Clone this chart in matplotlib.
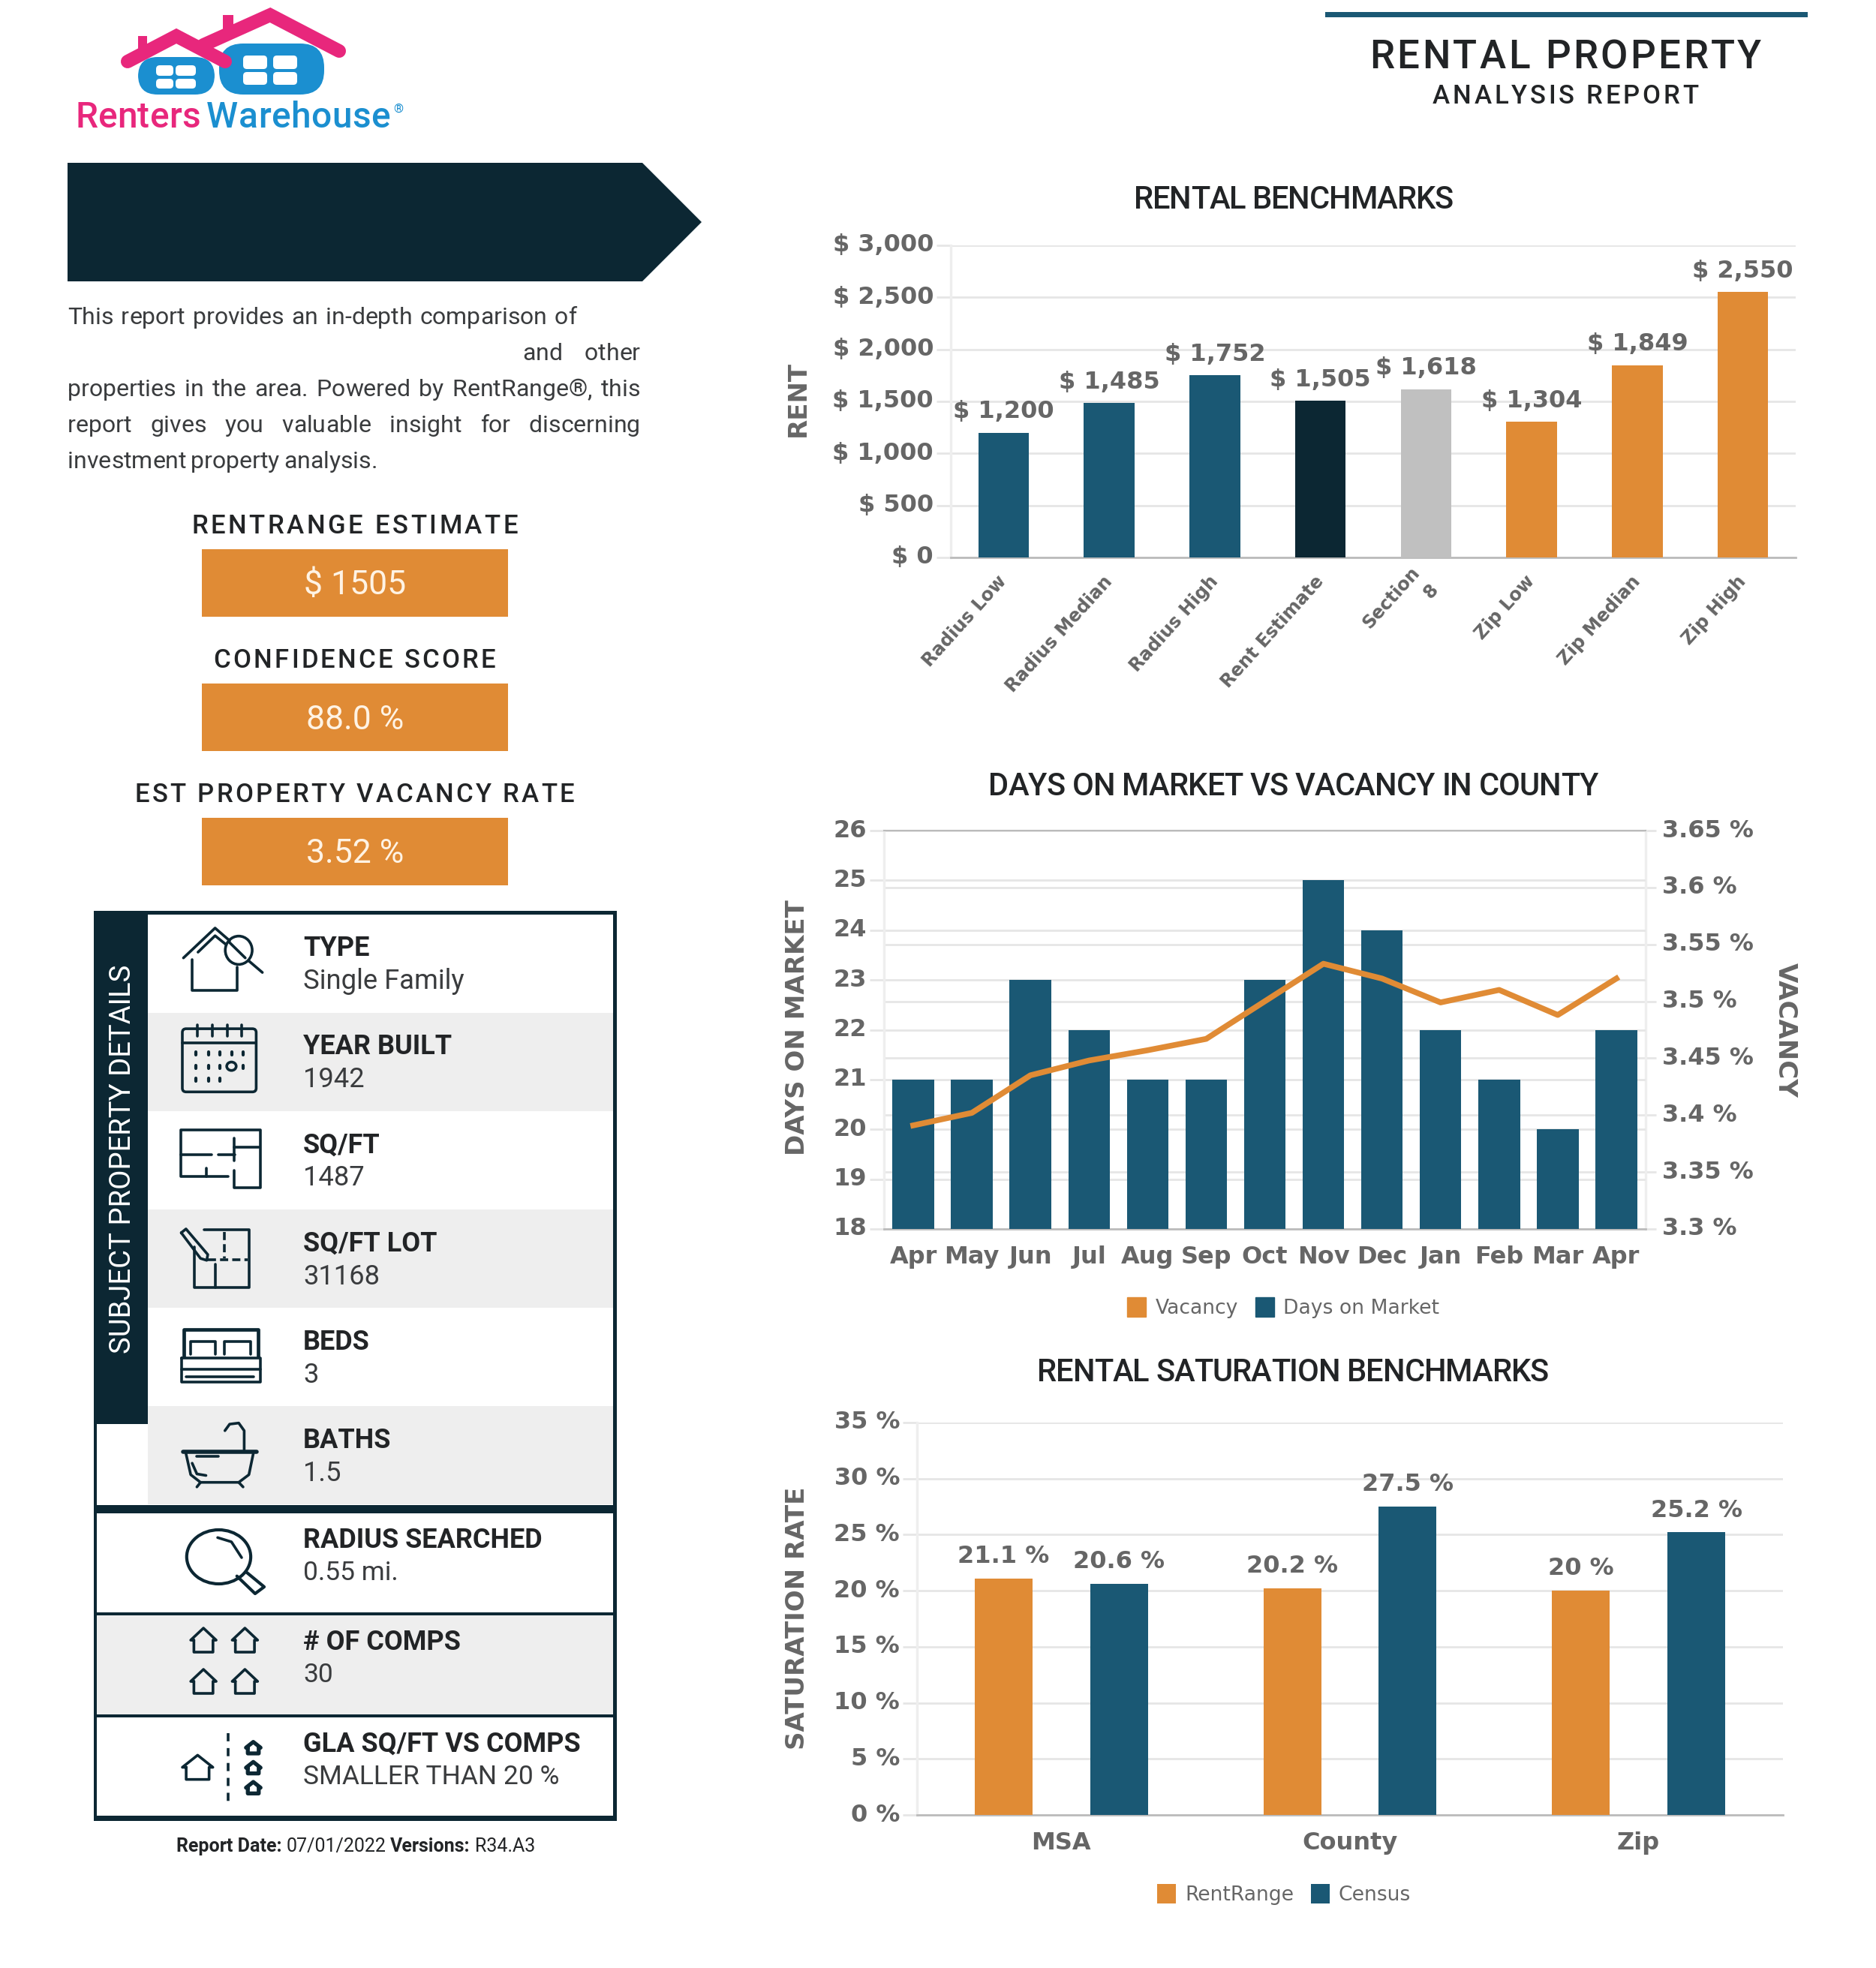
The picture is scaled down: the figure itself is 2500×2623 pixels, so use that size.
"""
Rental property analysis report page
"""

import matplotlib
matplotlib.use("Agg")
import matplotlib.pyplot as plt
from matplotlib.patches import Ellipse, FancyBboxPatch, Patch, Polygon, Rectangle
from matplotlib.text import Text
from matplotlib.transforms import Bbox, IdentityTransform

W, H = 2500, 2623

NAVY = "#1a5874"
DARK = "#0c2733"
ORANGE = "#e08b35"
SILVER = "#c0c0c0"
GREY_TXT = "#666666"
INK = "#222426"
SOFT_INK = "#3a3c3e"
GRID = "#e6e6e6"
AXIS = "#bbbbbb"
ROW_GREY = "#eeeeee"
PINK = "#e8277c"
SKY = "#1b8fd0"

# Rental benchmarks
bench_names = ["Radius Low", "Radius Median", "Radius High", "Rent Estimate",
               "Section\n8", "Zip Low", "Zip Median", "Zip High"]
bench_rent = [1200, 1485, 1752, 1505, 1618, 1304, 1849, 2550]
bench_colors = [NAVY, NAVY, NAVY, DARK, SILVER, ORANGE, ORANGE, ORANGE]
rent_ticks = [0, 500, 1000, 1500, 2000, 2500, 3000]

# Days on market vs vacancy
months = ["Apr", "May", "Jun", "Jul", "Aug", "Sep", "Oct", "Nov", "Dec", "Jan", "Feb", "Mar", "Apr"]
days_on_market = [21, 21, 23, 22, 21, 21, 23, 25, 24, 22, 21, 20, 22]
vacancy = [3.391, 3.402, 3.435, 3.448, 3.457, 3.467, 3.50, 3.533, 3.52, 3.499, 3.51, 3.488, 3.52]
day_ticks = [18, 19, 20, 21, 22, 23, 24, 25, 26]
vacancy_ticks = [3.3, 3.35, 3.4, 3.45, 3.5, 3.55, 3.6, 3.65]

# Saturation
areas = ["MSA", "County", "Zip"]
sat_rentrange = [21.1, 20.2, 20.0]
sat_census = [20.6, 27.5, 25.2]
sat_ticks = [0, 5, 10, 15, 20, 25, 30, 35]

# Left panel text
summary_lines = [
    ("This report provides an in-depth comparison of", 90, 678, 432),
    ("and other", 696, 157, 480),
    ("properties in the area. Powered by RentRange®, this", 90, 763, 528),
    ("report gives you valuable insight for discerning", 90, 763, 576),
    ("investment property analysis.", 90, 413, 624),
]
stat_titles = ["RENTRANGE ESTIMATE", "CONFIDENCE SCORE", "EST PROPERTY VACANCY RATE"]
stat_title_widths = [435, 376, 586]
stat_values = ["$ 1505", "88.0 %", "3.52 %"]
detail_titles = ["TYPE", "YEAR BUILT", "SQ/FT", "SQ/FT LOT", "BEDS", "BATHS"]
detail_values = ["Single Family", "1942", "1487", "31168", "3", "1.5"]
extra_titles = ["RADIUS SEARCHED", "# OF COMPS", "GLA SQ/FT VS COMPS"]
extra_values = ["0.55 mi.", "30", "SMALLER THAN 20 %"]

plt.rcParams["font.family"] = ["DejaVu Sans"]

fig = plt.figure(figsize=(W / 100, H / 100), dpi=100, facecolor="white")
page = fig.add_axes([0, 0, 1, 1])
page.set_xlim(0, W)
page.set_ylim(H, 0)
page.axis("off")


class SpreadText(Text):
    """One string stretched to a pixel width, by letters or by word gaps only."""

    def __init__(self, x, y, s, width, by_words=False, **kw):
        super().__init__(x, y, s, ha="left", va="baseline", **kw)
        self.width_px = width
        self.by_words = by_words

    def get_window_extent(self, renderer=None, dpi=None):
        b = super().get_window_extent(renderer, dpi)
        return Bbox.from_extents(b.x0, b.y0, b.x0 + self.width_px, b.y1)

    def draw(self, renderer):
        s = self.get_text()
        prop = self.get_fontproperties()

        def w(t):
            return renderer.get_text_width_height_descent(t, prop, False)[0]

        slots = s.count(" ") if self.by_words else len(s) - 1
        extra = (self.width_px - w(s)) / max(slots, 1)
        x0, y0 = self.get_transform().transform(self.get_position())
        done = 0
        for i, ch in enumerate(s):
            if ch != " ":
                adv = w(s[:i + 1]) - w(ch)
                t = Text(x0 + adv + done, y0, ch, ha="left", va="baseline", color=self.get_color(),
                         fontproperties=prop, transform=IdentityTransform())
                t.set_figure(self.get_figure())
                t.draw(renderer)
            if not self.by_words or ch == " ":
                done += extra


def spread(x, y, s, width, size, weight="normal", color=INK, by_words=False):
    t = SpreadText(x, y, s, width, by_words=by_words, color=color, family="Roboto", size=size, weight=weight)
    t.set_transform(page.transData)
    page.add_artist(t)
    return t


def label(x, y, s, size, weight="normal", color=INK, ha="left", va="baseline", **kw):
    return page.text(x, y, s, family="Roboto", size=size, weight=weight, color=color, ha=ha, va=va, **kw)


def rect(x0, y0, x1, y1, color, z=1):
    page.add_patch(Rectangle((x0, y0), x1 - x0, y1 - y0, facecolor=color, edgecolor="none", zorder=z))


def z2(x, y):
    # coordinates
    return x / 2.063 + 100, y / 1.96 + 1190


def z6(x, y):
    return x / 2.063 + 100, y / 3 + 1980


def stroke(pts, mapper, lw=2.6, ls="-"):
    xy = [mapper(*p) for p in pts]
    page.plot([p[0] for p in xy], [p[1] for p in xy], color=DARK, lw=lw, ls=ls, zorder=5,
              solid_capstyle="round", solid_joinstyle="round")


def oval(cx, cy, rx, ry, mapper, lw=2.6):
    x, y = mapper(cx, cy)
    sx, sy = mapper(cx + rx, cy + ry)
    page.add_patch(Ellipse((x, y), 2 * (sx - x), 2 * (sy - y), fill=False, ec=DARK, lw=lw, zorder=5))


def house6(cx, top, half, bottom, lw=2.6):
    eave = top + (bottom - top) * 0.5
    stroke([(cx - half * 0.75, eave), (cx - half, eave), (cx, top), (cx + half, eave), (cx + half * 0.75, eave),
            (cx + half * 0.75, bottom), (cx - half * 0.75, bottom), (cx - half * 0.75, eave)], z6, lw=lw)


def draw_logo():
    page.add_patch(FancyBboxPatch((192, 84), 86, 34, boxstyle="round,pad=8,rounding_size=26", fc=SKY, ec="none"))
    page.add_patch(FancyBboxPatch((300, 66), 124, 52, boxstyle="round,pad=8,rounding_size=32", fc=SKY, ec="none"))
    for x, y, w, h in [(209, 88, 21, 12), (235, 88, 25, 12), (209, 106, 21, 11), (235, 106, 25, 11),
                       (325, 75, 30, 16), (365, 75, 30, 16), (325, 97, 30, 15), (365, 97, 30, 15)]:
        page.add_patch(FancyBboxPatch((x, y), w, h, boxstyle="round,pad=1,rounding_size=5", fc="white", ec="none",
                                      zorder=3))
    for pts in ([(170, 82), (235, 48), (300, 82)], [(271, 60), (360, 20), (452, 68)]):
        page.plot([p[0] for p in pts], [p[1] for p in pts], color=PINK, lw=13, solid_capstyle="round",
                  solid_joinstyle="miter", zorder=4)
    rect(184, 48, 196, 68, PINK, z=4)
    rect(297, 20, 311, 48, PINK, z=4)
    spread(100, 170, "Renters", 167, 34.5, "medium", PINK)
    spread(275, 170, "Warehouse", 245, 34.5, "medium", SKY)
    label(524, 150, "®", 12, "normal", SKY)


def draw_icons():
    # house with magnifier
    stroke([(298, 170), (385, 92), (425, 125)], z2)
    stroke([(338, 155), (385, 112), (415, 135)], z2)
    stroke([(322, 175), (322, 255), (445, 255), (445, 195)], z2)
    oval(450, 150, 37, 37, z2)
    stroke([(478, 178), (515, 208)], z2)
    stroke([(425, 130), (468, 170)], z2)
    # calendar
    x0, y0 = z2(295, 355)
    x1, y1 = z2(498, 520)
    page.add_patch(FancyBboxPatch((x0, y0), x1 - x0, y1 - y0, boxstyle="round,pad=0,rounding_size=5",
                                  fc="none", ec=DARK, lw=2.6, zorder=5))
    stroke([(295, 392), (498, 392)], z2)
    for tx in (337, 378, 418, 458):
        stroke([(tx, 345), (tx, 375)], z2)
    for row, cols in ((420, (333, 367, 398, 432, 462)), (455, (333, 367, 398, 462)), (488, (333, 367, 398))):
        for cx in cols:
            stroke([(cx, row - 4), (cx, row + 4)], z2, lw=3)
    oval(430, 453, 13, 11, z2)
    # floor plan
    stroke([(420, 740), (290, 740), (290, 620), (510, 620), (510, 770), (438, 770), (438, 725)], z2)
    stroke([(290, 685), (375, 685)], z2)
    stroke([(395, 685), (440, 685)], z2)
    stroke([(438, 640), (438, 700)], z2)
    stroke([(438, 665), (505, 665)], z2)
    stroke([(360, 720), (360, 740)], z2)
    # lot with pencil
    stroke([(355, 880), (478, 880), (478, 1030), (328, 1030), (328, 925)], z2)
    stroke([(292, 888), (305, 878), (365, 945), (362, 960), (345, 955), (292, 888)], z2)
    stroke([(365, 958), (475, 958)], z2, ls=(0, (3, 1.5)))
    stroke([(410, 885), (410, 955)], z2, ls=(0, (3, 1.5)))
    stroke([(385, 970), (385, 1030)], z2)
    # bed
    stroke([(300, 1212), (300, 1140), (503, 1140), (503, 1212)], z2, lw=3.4)
    stroke([(318, 1205), (318, 1172), (385, 1172), (385, 1205)], z2)
    stroke([(410, 1205), (410, 1172), (482, 1172), (482, 1205)], z2)
    stroke([(292, 1215), (510, 1215), (510, 1278), (292, 1278), (292, 1215)], z2)
    stroke([(292, 1245), (510, 1245)], z2)
    stroke([(305, 1265), (490, 1265)], z2)
    # bath
    stroke([(297, 1460), (500, 1460)], z2, lw=4)
    stroke([(305, 1465), (318, 1520), (345, 1540), (450, 1540), (478, 1520), (490, 1465)], z2)
    stroke([(335, 1472), (395, 1472)], z2)
    stroke([(322, 1490), (335, 1518), (360, 1522)], z2)
    stroke([(465, 1455), (465, 1405), (450, 1385), (425, 1388), (412, 1405)], z2)
    stroke([(345, 1540), (335, 1552)], z2)
    stroke([(450, 1540), (462, 1552)], z2)
    # magnifier
    oval(395, 285, 88, 108, z6, lw=3)
    stroke([(392, 208), (430, 225), (458, 288)], z6)
    stroke([(445, 362), (495, 432), (520, 405), (470, 345)], z6, lw=3)
    # comps
    for cx, top in ((353, 570), (467, 570), (353, 735), (467, 735)):
        house6(cx, top, 35, top + 96)
    # gla
    house6(337, 1078, 42, 1175)
    stroke([(421, 990), (421, 1265)], z6, ls=(0, (3, 2.5)))
    for top in (1025, 1105, 1185):
        house6(490, top, 20, top + 46, lw=3.8)


def px_axes(left, top, right, bottom):
    return fig.add_axes([left / W, 1 - bottom / H, (right - left) / W, (bottom - top) / H])


def style_axes(ax, xsize=23, ypad=2.5):
    ax.set_facecolor("none")
    for side in ("top", "right"):
        ax.spines[side].set_visible(False)
    ax.spines["left"].set_color("#eeeeee")
    ax.spines["left"].set_linewidth(2.5)
    ax.spines["bottom"].set_color(AXIS)
    ax.spines["bottom"].set_linewidth(2)
    ax.set_axisbelow(True)
    ax.grid(axis="y", color=GRID, lw=2)
    ax.tick_params(axis="y", length=14, width=2, color=GRID, pad=ypad, labelsize=23, labelcolor=GREY_TXT)
    ax.tick_params(axis="x", length=0, labelsize=xsize, labelcolor=GREY_TXT)
    for t in ax.get_xticklabels():
        t.set_fontweight("bold")
    for t in ax.get_yticklabels():
        t.set(fontweight="bold", va="center")


def y_title(x, yc, s, size=24.5, rotation=90):
    page.text(x, yc, s, rotation=rotation, color=GREY_TXT, size=size, weight="bold", ha="center", va="center")


def chart_title(x, y, s, width, size):
    spread(x, y, s, width, size, "medium")


def swatch_legend(handles, anchor):
    return fig.legend(handles=handles, loc="center", bbox_to_anchor=(anchor[0] / W, 1 - anchor[1] / H), ncol=2,
                      frameon=False, handlelength=0.94, handleheight=1.12, handletextpad=0.45, columnspacing=0.86,
                      fontsize=19.2, labelcolor=GREY_TXT)


# -------- left panel --------
draw_logo()
page.add_patch(Polygon([(90, 217), (856, 217), (935, 296), (856, 375), (90, 375)], closed=True, fc=DARK, ec="none"))
for s, x, width, y in summary_lines:
    spread(x, y, s, width, 23, "normal", color=SOFT_INK, by_words=True)

for i in range(3):
    top = 732 + 179 * i
    cw = stat_title_widths[i]
    spread(472.5 - cw / 2, 711 + 179 * i, stat_titles[i], cw, 25, "medium")
    rect(269, top, 677, top + 90, ORANGE)
    label(473, top + 44, stat_values[i], 32, "normal", "#fff3e4", ha="center", va="center_baseline")

# details table
for i, (t, v) in enumerate(zip(detail_titles, detail_values)):
    top = 1219 + 131 * i
    if i % 2:
        rect(197, top, 817, top + 131, ROW_GREY)
    label(404, 1274 + 131.2 * i, t, 26, "bold")
    label(404, 1318 + 131.2 * i, v, 26.2, "normal", SOFT_INK)
rect(125, 1214, 197, 1898, DARK, z=2)
page.text(163, 1545, "SUBJECT PROPERTY DETAILS", family="Roboto", rotation=90, color="white", size=27.5,
          ha="center", va="center", zorder=3)

rect(129, 2153, 817, 2285, ROW_GREY)
rect(125, 1214, 822, 1219, DARK, z=2)
rect(125, 1214, 129, 2427, DARK, z=2)
rect(817, 1214, 822, 2427, DARK, z=2)
rect(125, 2006, 822, 2017, DARK, z=2)
rect(125, 2149, 822, 2153, DARK, z=2)
rect(125, 2285, 822, 2289, DARK, z=2)
rect(125, 2420, 822, 2427, DARK, z=2)
for y, t, v in zip((2063, 2199, 2335), extra_titles, extra_values):
    label(404, y, t, 26, "bold")
    label(404, y + 43, v, 25.5, "normal", SOFT_INK)
draw_icons()

label(235, 2468, "Report Date:", 18, "bold")
label(382, 2468, "07/01/2022", 18)
label(520, 2468, "Versions:", 18, "bold")
label(633, 2468, "R34.A3", 18)

# -------- page header --------
rect(1766, 16, 2409, 23, NAVY)
spread(1825, 91, "RENTAL PROPERTY", 522, 38, "medium")
spread(1909, 138, "ANALYSIS REPORT", 354, 25, "medium")

# -------- rental benchmarks --------
ax1 = px_axes(1267, 327, 2393, 743)
b1 = ax1.bar(range(len(bench_names)), bench_rent, width=0.48, color=bench_colors, zorder=3)
ax1.set_xlim(-0.5, len(bench_names) - 0.5)
ax1.set_ylim(0, 3000)
ax1.set_yticks(rent_ticks, [f"$ {v:,}" for v in rent_ticks])
ax1.set_xticks(range(len(bench_names)), bench_names)
style_axes(ax1, xsize=17.4)
ax1.tick_params(axis="x", pad=20)
for lbl in ax1.get_xticklabels():
    lbl.set(rotation=48, ha="right", va="center", rotation_mode="anchor", ma="right", linespacing=1.5)
ax1.bar_label(b1, labels=[f"$ {v:,}" for v in bench_rent], padding=9, color=GREY_TXT, size=23, weight="bold")
chart_title(1511, 278, "RENTAL BENCHMARKS", 426, 30)
y_title(1063, 531, "RENT")

# -------- days on market vs vacancy --------
ax2 = px_axes(1178, 1107, 2193, 1638)
ax2r = ax2.twinx()
ax2.set_zorder(2)
ax2r.set_zorder(1)
b2 = ax2.bar(range(len(months)), days_on_market, width=0.71, color=NAVY, zorder=3)
vac_line, = ax2.plot(range(len(months)), vacancy, color=ORANGE, lw=5.5, zorder=4, transform=ax2r.transData)
ax2.set_xlim(-0.5, len(months) - 0.5)
ax2.set_ylim(18, 26)
ax2r.set_ylim(3.3, 3.65)
ax2.set_yticks(day_ticks)
ax2.set_xticks(range(len(months)), months)
style_axes(ax2)
ax2.tick_params(axis="x", pad=16)
ax2r.set_yticks(vacancy_ticks, [f"{v:g} %" for v in vacancy_ticks])
ax2r.grid(axis="y", color=GRID, lw=2)
ax2r.set_axisbelow(True)
ax2r.tick_params(axis="y", length=10, width=2, color=GRID, pad=6, labelsize=23, labelcolor=GREY_TXT)
for t in ax2r.get_yticklabels():
    t.set(fontweight="bold", va="center")
for side in ("top", "left", "bottom"):
    ax2r.spines[side].set_visible(False)
ax2r.spines["right"].set_color("#eeeeee")
ax2r.spines["right"].set_linewidth(2.5)
ax2.spines["top"].set_visible(True)
ax2.spines["top"].set_color(AXIS)
ax2.spines["top"].set_linewidth(1.5)
chart_title(1317, 1060, "DAYS ON MARKET VS VACANCY IN COUNTY", 813, 30)
y_title(1063, 1370, "DAYS ON MARKET")
y_title(2379, 1373, "VACANCY", rotation=270)
swatch_legend([Patch(color=ORANGE, label="Vacancy"), Patch(color=NAVY, label="Days on Market")], (1710, 1743))

# -------- saturation --------
ax3 = px_axes(1222, 1896, 2376, 2419)
pos = range(len(areas))
b3a = ax3.bar([p - 0.2 for p in pos], sat_rentrange, width=0.2, color=ORANGE, zorder=3, label="RentRange")
b3b = ax3.bar([p + 0.2 for p in pos], sat_census, width=0.2, color=NAVY, zorder=3, label="Census")
ax3.set_xlim(-0.5, len(areas) - 0.5)
ax3.set_ylim(0, 35)
ax3.set_yticks(sat_ticks, [f"{v} %" for v in sat_ticks])
ax3.set_xticks(list(pos), areas)
style_axes(ax3)
ax3.tick_params(axis="x", pad=16)
ax3.bar_label(b3a, labels=[f"{v:g} %" for v in sat_rentrange], padding=10, color=GREY_TXT, size=23, weight="bold")
ax3.bar_label(b3b, labels=[f"{v:g} %" for v in sat_census], padding=10, color=GREY_TXT, size=23, weight="bold")
chart_title(1382, 1841, "RENTAL SATURATION BENCHMARKS", 682, 30)
y_title(1063, 2157, "SATURATION RATE")
swatch_legend([b3a, b3b], (1711, 2525))

fig.savefig("out.png", dpi=100)
